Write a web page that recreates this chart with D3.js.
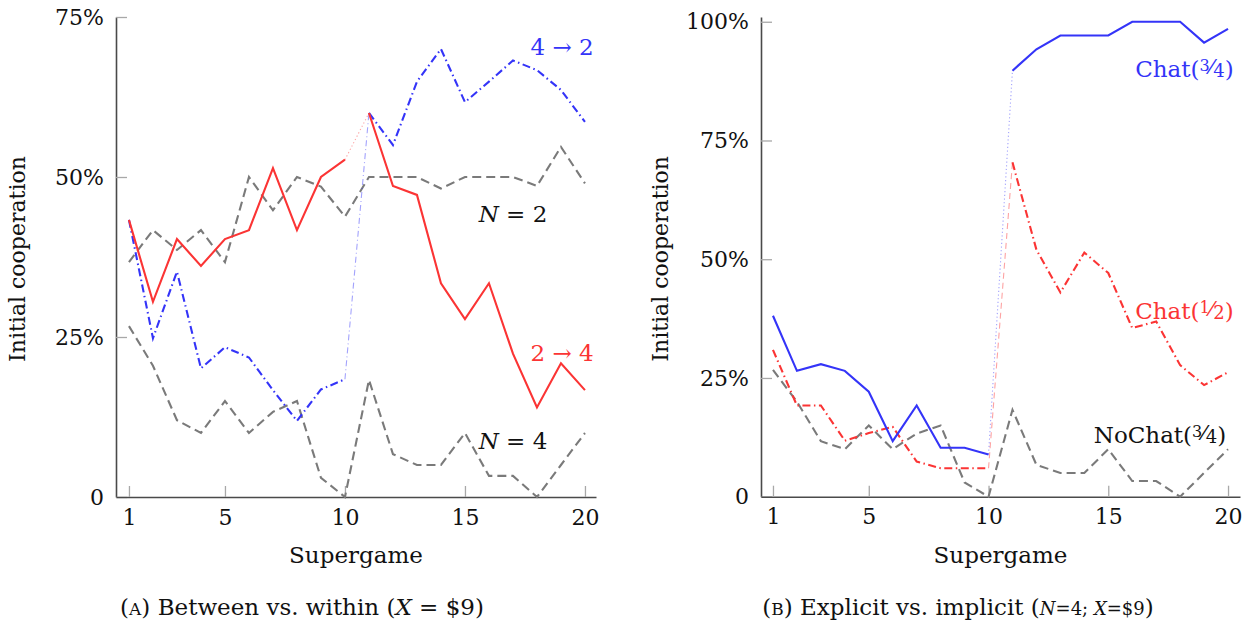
<!DOCTYPE html>
<html>
<head>
<meta charset="utf-8">
<script src="https://cdn.jsdelivr.net/npm/d3@7"></script>
<style>
  body { margin: 0; background: #fff; }
  svg text { font-family: "DejaVu Serif", serif; fill: #111; }
</style>
</head>
<body>
<svg id="chart" width="1254" height="626"></svg>
<script>
// ---- data -------------------------------------------------------------
const supergames = [1, 2, 3, 4, 5, 6, 7, 8, 9, 10, 11, 12, 13, 14, 15, 16, 17, 18, 19, 20];
const xTickValues = [1, 5, 10, 15, 20];

// Panel A: between vs. within (share of initial cooperation, %)
const twoToFour = [43.3, 30.5, 40.3, 36.1, 40.3, 41.7, 51.4, 41.7, 50.0, 52.7,
                   60.0, 48.6, 47.2, 33.4, 27.8, 33.4, 22.4, 14.0, 20.9, 16.7];
const fourToTwo = [43.3, 24.8, 35.2, 20.1, 23.4, 21.8, 16.7, 11.9, 16.8, 18.4,
                   60.0, 55.0, 64.9, 70.0, 61.7, 64.9, 68.2, 66.7, 63.6, 58.6];
const groupTwo  = [36.7, 41.7, 38.6, 41.7, 36.7, 50.0, 44.8, 50.0, 48.5, 43.8,
                   50.0, 50.0, 50.0, 48.2, 50.0, 50.0, 50.0, 48.6, 54.7, 49.0];
const groupFour = [26.7, 20.5, 12.0, 10.0, 15.0, 10.0, 13.3, 15.0, 3.0, 0.0,
                   18.3, 6.7, 5.0, 5.0, 10.0, 3.3, 3.3, 0.0, 5.0, 10.0];
const yTicksA = [0, 25, 50, 75];

// Panel B: explicit vs. implicit (N=4)
const chatThreeQuarters = [38.1, 26.5, 27.9, 26.5, 22.1, 11.7, 19.2, 10.3, 10.3, 8.9,
                           89.7, 94.2, 97.1, 97.1, 97.1, 100, 100, 100, 95.6, 98.5];
const chatOneHalf       = [30.9, 19.2, 19.2, 11.8, 13.4, 14.7, 7.4, 6.0, 6.0, 6.0,
                           70.4, 52.0, 43.0, 51.4, 47.1, 35.5, 36.9, 27.7, 23.5, 26.2];
const noChatThreeQuarters = [26.7, 20.0, 11.7, 10.0, 15.0, 10.0, 13.3, 15.0, 3.0, 0.0,
                             18.3, 6.7, 5.0, 5.0, 10.0, 3.3, 3.3, 0.0, 5.0, 10.0];
const yTicksB = [0, 25, 50, 75, 100];

// ---- styles -----------------------------------------------------------
const BLUE = "#3434f8", RED = "#fb3434", GRAY = "#7a7a7a";
const DASHDOT = "8,3.5,1.5,3.5";
const DASHED = "9,5";

const svg = d3.select("#chart");

function panel(cfg) {
  const x = d3.scaleLinear().domain(cfg.xDomain).range(cfg.xRange);
  const y = d3.scaleLinear().domain(cfg.yDomain).range(cfg.yRange);
  const g = svg.append("g");

  // axes: ticks drawn inward, light gray; axis lines darker
  const yAxis = d3.axisLeft(y).tickValues(cfg.yTicks).tickSize(-11).tickSizeOuter(0)
    .tickPadding(12).tickFormat(d => d === 0 ? "0" : d + "%");
  const xAxis = d3.axisBottom(x).tickValues(xTickValues).tickSize(-11).tickSizeOuter(0)
    .tickPadding(12);

  const ya = g.append("g").attr("transform", `translate(${cfg.xRange[0]},0)`).call(yAxis);
  const xa = g.append("g").attr("transform", `translate(0,${y(0)})`).call(xAxis);
  [ya, xa].forEach(a => {
    a.select(".domain").attr("stroke", "#4a4a4a").attr("stroke-width", 1.6);
    a.selectAll(".tick line").attr("stroke", "#a8a8a8").attr("stroke-width", 1.3);
    a.selectAll(".tick text").attr("font-size", 22).attr("fill", "#111")
      .attr("font-family", "DejaVu Serif, serif");
  });

  const line = d3.line().x(d => x(d.s)).y(d => y(d.v));
  const pts = vals => supergames.map((s, i) => ({ s, v: vals[i] }));

  cfg.series.forEach(sr => {
    const p = pts(sr.values);
    if (sr.continuous) {
      g.append("path").datum(p).attr("d", line).attr("fill", "none")
        .attr("stroke", sr.color).attr("stroke-width", 2.1)
        .attr("stroke-dasharray", sr.dash || null);
      return;
    }
    // switch between supergame 10 and 11 drawn faintly
    g.append("path").datum(p.slice(9, 11)).attr("d", line).attr("fill", "none")
      .attr("stroke", sr.color).attr("stroke-opacity", 0.45).attr("stroke-width", 1.1)
      .attr("stroke-dasharray", sr.bridgeDash);
    [p.slice(0, 10), p.slice(10)].forEach(part => {
      g.append("path").datum(part).attr("d", line).attr("fill", "none")
        .attr("stroke", sr.color).attr("stroke-width", 2.1)
        .attr("stroke-dasharray", sr.dash || null);
    });
  });

  // series labels
  cfg.labels.forEach(lb => {
    const t = g.append("text").attr("x", x(lb.s)).attr("y", y(lb.v))
      .attr("text-anchor", "middle").attr("font-size", 23).style("fill", lb.color);
    lb.parts.forEach(pt => {
      const ts = t.append("tspan").text(pt.t);
      if (pt.italic) ts.attr("font-style", "italic");
      if (pt.size) ts.attr("font-size", pt.size);
      if (pt.dy) ts.attr("dy", pt.dy);
    });
  });

  // axis titles
  g.append("text").attr("x", (cfg.xRange[0] + cfg.xRange[1]) / 2).attr("y", 563)
    .attr("text-anchor", "middle").attr("font-size", 23).text("Supergame");
  g.append("text")
    .attr("transform", `translate(${cfg.yTitleX},${(cfg.yRange[0] + cfg.yRange[1]) / 2 + 2}) rotate(-90)`)
    .attr("text-anchor", "middle").attr("font-size", 22).text("Initial cooperation");

  // caption
  const c = g.append("text").attr("x", cfg.captionX).attr("y", 615)
    .attr("text-anchor", "middle").attr("font-size", 23);
  cfg.caption.forEach(pt => {
    const ts = c.append("tspan").text(pt.t);
    if (pt.italic) ts.attr("font-style", "italic");
    if (pt.size) ts.attr("font-size", pt.size);
  });
}

// fraction pieces for "Chat(3/4)" style labels
const frac = (a, b) => [
  { t: a, size: 16, dy: -6 },
  { t: "\u2044", size: 21, dy: 3 },
  { t: b, size: 18, dy: 3 },
  { t: ")", dy: 0 }
];

panel({
  xDomain: [0.46, 20.46], xRange: [116, 596],
  yDomain: [0, 75], yRange: [497, 17],
  yTicks: yTicksA, yTitleX: 25,
  series: [
    { values: groupTwo, color: GRAY, dash: DASHED, continuous: true },
    { values: groupFour, color: GRAY, dash: DASHED, continuous: true },
    { values: fourToTwo, color: BLUE, dash: DASHDOT, bridgeDash: "6,3,1,3" },
    { values: twoToFour, color: RED, dash: null, bridgeDash: "1.2,2.5" }
  ],
  labels: [
    { s: 19.05, v: 69.1, color: BLUE, parts: [{ t: "4 \u2192 2" }] },
    { s: 17.0, v: 43.0, color: "#111", parts: [{ t: "N", italic: true }, { t: " = 2" }] },
    { s: 19.05, v: 21.3, color: RED, parts: [{ t: "2 \u2192 4" }] },
    { s: 17.0, v: 7.5, color: "#111", parts: [{ t: "N", italic: true }, { t: " = 4" }] }
  ],
  captionX: 302,
  caption: [{ t: "(" }, { t: "A", size: 17 }, { t: ") Between vs. within (" },
            { t: "X", italic: true }, { t: " = $9)" }]
});

panel({
  xDomain: [0.5, 20.5], xRange: [761, 1240],
  yDomain: [0, 101], yRange: [496.7, 17],
  yTicks: yTicksB, yTitleX: 668,
  series: [
    { values: noChatThreeQuarters, color: GRAY, dash: DASHED, continuous: true },
    { values: chatOneHalf, color: RED, dash: DASHDOT, bridgeDash: "6,4" },
    { values: chatThreeQuarters, color: BLUE, dash: null, bridgeDash: "1.2,2.5" }
  ],
  labels: [
    { s: 18.18, v: 88.4, color: BLUE, parts: [{ t: "Chat(" }, ...frac("3", "4")] },
    { s: 18.18, v: 37.4, color: RED, parts: [{ t: "Chat(" }, ...frac("1", "2")] },
    { s: 17.16, v: 11.3, color: "#111", parts: [{ t: "NoChat(" }, ...frac("3", "4")] }
  ],
  captionX: 958,
  caption: [{ t: "(" }, { t: "B", size: 17 }, { t: ") Explicit vs. implicit (" },
            { t: "N", italic: true, size: 18 }, { t: "=4; ", size: 18 },
            { t: "X", italic: true, size: 18 }, { t: "=$9", size: 18 }, { t: ")" }]
});
</script>
</body>
</html>
